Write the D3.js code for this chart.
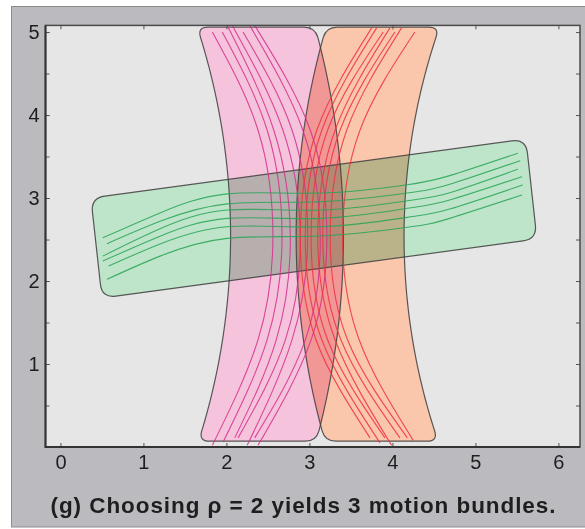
<!DOCTYPE html>
<html><head><meta charset="utf-8">
<script src="https://cdn.jsdelivr.net/npm/d3@7"></script>
<style>
body{margin:0;background:#fff}
svg{display:block}
text{font-family:"Liberation Sans",Arial,Helvetica,sans-serif}
</style>
</head><body>
<svg id="c" width="585" height="529"></svg>
<script>
// ---------------- data ----------------
const xTicks = [0, 1, 2, 3, 4, 5, 6];
const yTicks = [1, 2, 3, 4, 5];
const yMinorTicks = [0.5, 1, 1.5, 2, 2.5, 3, 3.5, 4, 4.5, 5];
const xDomain = [-0.18, 6.26];
const yDomain = [0, 5.08];
const titleText = "(g) Choosing ρ = 2 yields 3 motion bundles.";

// curved bundles: ring centre (data units), inner & outer radius, bottom & top y
const pinkBundle   = {cx: -6.05, cy: 2.54, rIn: 8.10, rOut: 9.46, yLo: 0.07, yHi: 5.06};
const orangeBundle = {cx: 11.79, cy: 2.54, rIn: 7.65, rOut: 8.95, yLo: 0.07, yHi: 5.06};
// straight bundle: corners (TL, TR, BR, BL)
const greenBundle = [[0.367, 3.0], [5.608, 3.711], [5.741, 2.506], [0.50, 1.795]];

const pinkLines = [
  [[1.83,5.00],[2.38,3.82],[2.56,2.54],[2.38,1.29],[1.83,0.02]],
  [[1.95,5.00],[2.49,3.82],[2.67,2.54],[2.49,1.29],[1.96,0.06]],
  [[2.01,5.08],[2.57,3.82],[2.77,2.54],[2.60,1.29],[2.10,0.11]],
  [[2.07,5.08],[2.68,3.82],[2.89,2.54],[2.71,1.29],[2.14,0.11]],
  [[2.20,5.00],[2.79,3.82],[2.98,2.54],[2.79,1.29],[2.25,0.02]],
  [[2.28,5.08],[2.92,3.82],[3.13,2.54],[2.95,1.29],[2.34,0.11]],
  [[2.34,5.08],[3.01,3.82],[3.21,2.54],[3.02,1.29],[2.38,0.02]]
];
const orangeLines = [
  [[3.75,5.05],[3.09,3.82],[2.89,2.54],[3.08,1.29],[3.73,0.11]],
  [[3.81,5.05],[3.15,3.82],[2.95,2.54],[3.15,1.29],[3.85,0.05]],
  [[3.89,5.00],[3.22,3.82],[3.02,2.54],[3.22,1.29],[3.91,0.11]],
  [[3.97,5.05],[3.31,3.82],[3.10,2.54],[3.31,1.29],[3.99,0.02]],
  [[4.03,5.00],[3.37,3.82],[3.16,2.54],[3.38,1.29],[4.09,0.11]],
  [[4.11,5.05],[3.45,3.82],[3.25,2.54],[3.46,1.29],[4.18,0.11]],
  [[4.27,5.00],[3.61,3.82],[3.40,2.54],[3.60,1.29],[4.25,0.08]]
];
const greenLines = [
  [[0.51,2.52],[1.20,2.82],[2.01,3.05],[3.13,3.06],[4.18,3.16],[4.69,3.27],[5.51,3.54]],
  [[0.56,2.45],[1.20,2.72],[2.01,2.93],[3.13,2.955],[4.18,3.06],[4.69,3.165],[5.54,3.45]],
  [[0.51,2.30],[1.20,2.63],[2.01,2.855],[3.13,2.855],[4.18,2.967],[4.69,3.064],[5.51,3.346]],
  [[0.51,2.24],[1.20,2.54],[2.01,2.755],[3.13,2.755],[4.18,2.876],[4.69,2.976],[5.56,3.257]],
  [[0.58,2.18],[1.20,2.446],[2.01,2.654],[3.13,2.654],[4.18,2.767],[4.69,2.867],[5.57,3.157]],
  [[0.56,2.02],[1.20,2.30],[2.01,2.514],[3.13,2.542],[4.18,2.647],[4.69,2.755],[5.56,3.036]]
];

// ---------------- layout ----------------
const svg = d3.select("#c");
const L = 45.5, R = 580, T = 25.4, B = 447;
const x = d3.scaleLinear().domain(xDomain).range([L, R]);
const y = d3.scaleLinear().domain(yDomain).range([B, T]);

// outer panel
svg.append("rect").attr("x", 11.5).attr("y", 6.5).attr("width", 590).attr("height", 520.5)
  .attr("fill", "#bbbabf").attr("stroke", "#8c8c8f").attr("stroke-width", 1);
// plot background
svg.append("rect").attr("x", L).attr("y", T).attr("width", R - L).attr("height", B - T)
  .attr("fill", "#e6e6e6");

svg.append("clipPath").attr("id", "clip").append("rect")
  .attr("x", L).attr("y", T).attr("width", R - L).attr("height", B - T);

// ---------- geometry helpers ----------
const dist = (a, b) => Math.hypot(b[0] - a[0], b[1] - a[1]);
function cutStart(pts, r) {
  let acc = 0;
  for (let i = 1; i < pts.length; i++) {
    const s = dist(pts[i - 1], pts[i]);
    if (acc + s >= r) {
      const t = (r - acc) / s;
      const p = [pts[i - 1][0] + t * (pts[i][0] - pts[i - 1][0]), pts[i - 1][1] + t * (pts[i][1] - pts[i - 1][1])];
      return [p].concat(pts.slice(i));
    }
    acc += s;
  }
  return [pts[pts.length - 1]];
}
function trim(pts, r) {
  const a = cutStart(pts, r);
  return cutStart(a.slice().reverse(), r).reverse();
}
function roundedPath(edges, r) {
  const tr = edges.map(e => trim(e, r));
  const f = p => p[0].toFixed(2) + "," + p[1].toFixed(2);
  let d = "";
  for (let i = 0; i < edges.length; i++) {
    const e = tr[i];
    if (i === 0) d += "M" + f(e[0]);
    else d += "Q" + f(edges[i][0]) + " " + f(e[0]);
    for (let k = 1; k < e.length; k++) d += "L" + f(e[k]);
  }
  d += "Q" + f(edges[0][0]) + " " + f(tr[0][0]) + "Z";
  return d;
}
function ringEdges(b, side) {
  // side = +1 : centre on the left ; -1 : centre on the right
  const n = 60;
  const arc = (rad, y0, y1) => d3.range(n + 1).map(i => {
    const yy = y0 + (y1 - y0) * i / n;
    const xx = b.cx + side * Math.sqrt(rad * rad - (yy - b.cy) * (yy - b.cy));
    return [x(xx), y(yy)];
  });
  const rLeft = side > 0 ? b.rIn : b.rOut;
  const rRight = side > 0 ? b.rOut : b.rIn;
  const left = arc(rLeft, b.yHi, b.yLo);
  const right = arc(rRight, b.yLo, b.yHi);
  const bottom = [left[n], right[0]];
  const top = [right[n], left[0]];
  return [left, bottom, right, top];
}
function polyEdges(c) {
  const p = c.map(d => [x(d[0]), y(d[1])]);
  return p.map((d, i) => [d, p[(i + 1) % p.length]]);
}

const shapes = [
  {d: roundedPath(ringEdges(pinkBundle, 1), 11), fill: "#f6c3dd"},
  {d: roundedPath(ringEdges(orangeBundle, -1), 11), fill: "#fac6ac"},
  {d: roundedPath(polyEdges(greenBundle), 14), fill: "#bee5c9"}
];

const plot = svg.append("g").attr("clip-path", "url(#clip)");
const fills = plot.append("g").style("isolation", "isolate");
fills.selectAll("path").data(shapes).join("path")
  .attr("d", d => d.d).attr("fill", d => d.fill)
  .style("mix-blend-mode", "multiply");
plot.append("g").selectAll("path").data(shapes).join("path")
  .attr("d", d => d.d).attr("fill", "none")
  .attr("stroke", "#3e3e3e").attr("stroke-width", 1.2).attr("stroke-opacity", 0.85);

const line = d3.line().x(d => x(d[0])).y(d => y(d[1])).curve(d3.curveNatural);
const lineGroups = [
  {data: pinkLines, color: "#d42f8c"},
  {data: orangeLines, color: "#f0303e"},
  {data: greenLines, color: "#27a356"}
];
lineGroups.forEach(g => {
  plot.append("g").selectAll("path").data(g.data).join("path")
    .attr("d", line).attr("fill", "none")
    .attr("stroke", g.color).attr("stroke-width", 1.1).attr("stroke-opacity", 0.85);
});

// ---------- axes ----------
const fontSize = 20;
function styleAxis(g) {
  g.select(".domain").remove();
  g.selectAll(".tick line").attr("stroke", "#555").attr("stroke-width", 1);
  g.selectAll(".tick text").attr("fill", "#1e1e1e").attr("font-size", fontSize)
    .attr("font-family", "'Liberation Sans', Arial, sans-serif");
}
svg.append("g").attr("transform", `translate(${L},0)`)
  .call(d3.axisLeft(y).tickValues(yTicks).tickSizeInner(-4).tickSizeOuter(0).tickPadding(6).tickFormat(d3.format("d")))
  .call(styleAxis);
svg.append("g").attr("transform", `translate(${L},0)`)
  .call(d3.axisLeft(y).tickValues(yMinorTicks).tickSizeInner(-4).tickSizeOuter(0).tickFormat(""))
  .call(styleAxis);
svg.append("g").attr("transform", `translate(${R},0)`)
  .call(d3.axisRight(y).tickValues(yMinorTicks).tickSizeInner(-4).tickSizeOuter(0).tickFormat(""))
  .call(styleAxis);
svg.append("g").attr("transform", `translate(0,${B})`)
  .call(d3.axisBottom(x).tickValues(xTicks).tickSizeInner(-4).tickSizeOuter(0).tickPadding(8).tickFormat(d3.format("d")))
  .call(styleAxis);
svg.append("g").attr("transform", `translate(0,${T})`)
  .call(d3.axisTop(x).tickValues(xTicks).tickSizeInner(-4).tickSizeOuter(0).tickFormat(""))
  .call(styleAxis);

// frame
svg.append("rect").attr("x", L).attr("y", T).attr("width", R - L).attr("height", B - T)
  .attr("fill", "none").attr("stroke", "#4a4a4a").attr("stroke-width", 1.5);
svg.append("path").attr("d", `M${L},${T}V${B}H${R}`).attr("fill", "none")
  .attr("stroke", "#333").attr("stroke-width", 2);

// title
svg.append("text").attr("x", 303).attr("y", 513).attr("text-anchor", "middle")
  .attr("font-size", 22.5).attr("font-weight", "bold").attr("fill", "#1e1e1e")
  .attr("textLength", 505).attr("lengthAdjust", "spacing")
  .text(titleText);
</script>
</body></html>
